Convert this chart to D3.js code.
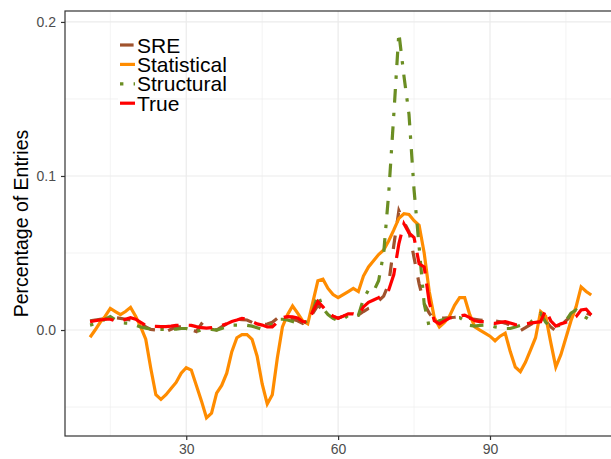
<!DOCTYPE html>
<html>
<head>
<meta charset="utf-8">
<script src="https://cdn.jsdelivr.net/npm/d3@7"></script>
<style>
  body { margin: 0; background: #fff; }
  svg { font-family: "Liberation Sans", Arial, sans-serif; }
</style>
</head>
<body>
<script>
//chart data
var xs = d3.range(11, 111);

var sre = [0.006, 0.0065, 0.007, 0.0075, 0.008, 0.008, 0.0076, 0.007, 0.0065, 0.006,
  0.005, 0.002, 0.0004, 0.0, -0.001, -0.001, 0.0005, 0.002, 0.002, 0.0015,
  0.0, -0.001, 0.004, 0.001, 0.001, 0.0, 0.002, 0.004, 0.006, 0.007,
  0.0068, 0.0065, 0.005, 0.0032, 0.0035, 0.0039, 0.005, 0.0076, 0.0076, 0.0076,
  0.007, 0.006, 0.0043, 0.007, 0.0108, 0.016, 0.013, 0.011, 0.0087, 0.0076,
  0.009, 0.0105, 0.0108, 0.0097, 0.012, 0.014, 0.015, 0.019, 0.022, 0.03,
  0.055, 0.0775, 0.07, 0.064, 0.047, 0.03, 0.017, 0.011, 0.0065, 0.0076,
  0.0078, 0.008, 0.0083, 0.0087, 0.008, 0.0075, 0.007, 0.0065, 0.006, 0.006,
  0.0058, 0.0054, 0.0045, 0.0032, 0.0005, -0.0004, 0.0015, 0.0035, 0.0055, 0.0072,
  0.006, 0.002, -0.0006, 0.003, 0.006, 0.009, 0.012, 0.012, 0.011, 0.0097];

var statistical = [-0.0047, 0.0, 0.005, 0.009, 0.014, 0.012, 0.010, 0.012, 0.0147, 0.009,
  0.002, -0.006, -0.025, -0.042, -0.045, -0.042, -0.038, -0.034, -0.028, -0.0245,
  -0.026, -0.036, -0.046, -0.057, -0.054, -0.041, -0.036, -0.028, -0.014, -0.005,
  -0.003, -0.003, -0.006, -0.017, -0.035, -0.048, -0.042, -0.018, 0.002, 0.010,
  0.0156, 0.011, 0.006, 0.004, 0.018, 0.032, 0.033, 0.027, 0.023, 0.021,
  0.023, 0.025, 0.027, 0.025, 0.035, 0.041, 0.045, 0.049, 0.052, 0.058,
  0.065, 0.0725, 0.0755, 0.075, 0.071, 0.068, 0.05, 0.025, 0.008, 0.002,
  0.005, 0.009, 0.016, 0.021, 0.021, 0.010, 0.002, 0.0, -0.002, -0.004,
  -0.007, -0.004, -0.002, -0.014, -0.024, -0.027, -0.021, -0.013, -0.005, 0.012,
  0.009, -0.008, -0.024, -0.016, -0.005, 0.006, 0.015, 0.028, 0.025, 0.0227];

var structural = [0.0032, 0.004, 0.005, 0.007, 0.0087, 0.0065, 0.0047, 0.0045, 0.0043, 0.003,
  0.002, 0.0012, 0.0006, 0.0004, 0.0004, 0.0004, 0.0004, 0.0006, 0.001, 0.001,
  0.0, -0.001, 0.0, 0.0004, 0.0004, 0.0, 0.001, 0.002, 0.0032, 0.0032,
  0.0032, 0.003, 0.0025, 0.0015, 0.0004, 0.002, 0.004, 0.007, 0.007, 0.0065,
  0.0055, 0.0045, 0.0043, 0.006, 0.012, 0.023, 0.014, 0.010, 0.0076, 0.006,
  0.007, 0.0095, 0.009, 0.0095, 0.02, 0.026, 0.025, 0.032, 0.05, 0.089,
  0.14, 0.193, 0.165, 0.14, 0.091, 0.054, 0.017, 0.002, 0.004, 0.006,
  0.007, 0.0076, 0.008, 0.008, 0.006, 0.003, 0.0025, 0.003, 0.0032, 0.003,
  0.002, 0.0015, 0.001, 0.001, 0.002, 0.003, 0.004, 0.005, 0.008, 0.0108,
  0.005, 0.002, 0.0025, 0.003, 0.006, 0.011, 0.013, 0.01, 0.008, 0.006];

var truth = [0.0054, 0.006, 0.0065, 0.007, 0.007, 0.006, 0.0055, 0.007, 0.008, 0.007,
  0.005, 0.003, 0.0026, 0.0024, 0.0022, 0.0022, 0.0025, 0.003, 0.003, 0.0032,
  0.003, 0.0022, 0.0015, 0.0012, 0.0015, 0.002, 0.003, 0.004, 0.0055, 0.0065,
  0.0076, 0.007, 0.0055, 0.004, 0.0032, 0.002, 0.002, 0.005, 0.008, 0.0087,
  0.0085, 0.0078, 0.0055, 0.005, 0.012, 0.0185, 0.015, 0.011, 0.009, 0.0076,
  0.009, 0.0105, 0.0105, 0.0097, 0.015, 0.018, 0.0195, 0.021, 0.023, 0.026,
  0.036, 0.056, 0.069, 0.063, 0.060, 0.043, 0.041, 0.018, 0.006, 0.004,
  0.006, 0.0078, 0.0085, 0.0092, 0.0097, 0.008, 0.006, 0.0055, 0.0054, 0.0045,
  0.0043, 0.005, 0.0054, 0.0045, 0.0035, 0.0032, 0.004, 0.0045, 0.005, 0.0054,
  0.013, 0.006, 0.0025, 0.004, 0.005, 0.0065, 0.0087, 0.013, 0.0135, 0.0097];

var seriesNames = ["SRE", "Statistical", "Structural", "True"];
var xTicks = [30, 60, 90];
var xMinor = [15, 45, 75, 105];
var yTicks = [0.0, 0.1, 0.2];
var yMinor = [-0.05, 0.05, 0.15];

window.onload = drawChart();

function drawChart() {
    var width = 611,
        height = 459;

    //panel box (right side runs past the picture)
    var left = 65, top = 11, right = 616.3, bottom = 436;

    var svg = d3.select("body")
        .append("svg")
        .attr("width", width)
        .attr("height", height);

    var x = d3.scaleLinear().domain([6.05, 114.95]).range([left, right]);
    var y = d3.scaleLinear().domain([-0.0688, 0.2071]).range([bottom, top]);

    svg.append("defs").append("clipPath")
        .attr("id", "panel")
        .append("rect")
        .attr("x", left).attr("y", top)
        .attr("width", right - left).attr("height", bottom - top);

    //grid lines
    var grid = svg.append("g");
    grid.selectAll(".ymin").data(yMinor).enter().append("line")
        .attr("x1", left).attr("x2", right)
        .attr("y1", d => y(d)).attr("y2", d => y(d))
        .attr("stroke", "#ebebeb").attr("stroke-width", 0.6);
    grid.selectAll(".xmin").data(xMinor).enter().append("line")
        .attr("y1", top).attr("y2", bottom)
        .attr("x1", d => x(d)).attr("x2", d => x(d))
        .attr("stroke", "#ebebeb").attr("stroke-width", 0.6);
    grid.selectAll(".ymaj").data(yTicks).enter().append("line")
        .attr("x1", left).attr("x2", right)
        .attr("y1", d => y(d)).attr("y2", d => y(d))
        .attr("stroke", "#ebebeb").attr("stroke-width", 1.2);
    grid.selectAll(".xmaj").data(xTicks).enter().append("line")
        .attr("y1", top).attr("y2", bottom)
        .attr("x1", d => x(d)).attr("x2", d => x(d))
        .attr("stroke", "#ebebeb").attr("stroke-width", 1.2);

    //series
    var u = 3.4;
    var styles = [
        { data: sre, color: "#a0522d", dash: [4 * u, 4 * u] },
        { data: statistical, color: "#ff8c00", dash: null },
        { data: structural, color: "#6b8e23", dash: [1 * u, 3 * u, 4 * u, 3 * u] },
        { data: truth, color: "#ff0000", dash: [7 * u, 3 * u] }
    ];

    var line = d3.line()
        .x((d, i) => x(xs[i]))
        .y(d => y(d));

    var lines = svg.append("g").attr("clip-path", "url(#panel)");
    styles.forEach(function(s) {
        lines.append("path")
            .datum(s.data)
            .attr("d", line)
            .attr("fill", "none")
            .attr("stroke", s.color)
            .attr("stroke-width", 3.2)
            .attr("stroke-dasharray", s.dash ? s.dash.join(",") : null);
    });

    //panel border
    svg.append("rect")
        .attr("x", left).attr("y", top)
        .attr("width", right - left).attr("height", bottom - top)
        .attr("fill", "none")
        .attr("stroke", "#333333")
        .attr("stroke-width", 1.2);

    //axes
    var xAxis = svg.append("g")
        .attr("transform", "translate(0," + bottom + ")")
        .call(d3.axisBottom(x).tickValues(xTicks).tickSize(4).tickPadding(4).tickFormat(d3.format("d")));
    var yAxis = svg.append("g")
        .attr("transform", "translate(" + left + ",0)")
        .call(d3.axisLeft(y).tickValues(yTicks).tickSize(4).tickPadding(5).tickFormat(d3.format(".1f")));

    [xAxis, yAxis].forEach(function(a) {
        a.select(".domain").remove();
        a.selectAll(".tick line").attr("stroke", "#333333").attr("stroke-width", 1.2);
        a.selectAll(".tick text")
            .attr("fill", "#4d4d4d")
            .style("font-size", "14px")
            .style("font-family", "'Liberation Sans', Arial, sans-serif");
    });

    //y axis title
    svg.append("text")
        .attr("transform", "translate(28," + ((top + bottom) / 2) + ") rotate(-90)")
        .attr("text-anchor", "middle")
        .style("font-size", "19.5px")
        .attr("fill", "#000")
        .text("Percentage of Entries");

    //legend
    var legend = svg.append("g");
    styles.forEach(function(s, i) {
        var cy = 45 + i * 19.4;
        legend.append("rect")
            .attr("x", 118).attr("y", cy - 9.7)
            .attr("width", 18).attr("height", 19.4)
            .attr("fill", "#fff");
        legend.append("line")
            .attr("x1", 120).attr("x2", 135)
            .attr("y1", cy).attr("y2", cy)
            .attr("stroke", s.color)
            .attr("stroke-width", 3.2)
            .attr("stroke-dasharray", s.dash ? s.dash.join(",") : null);
        legend.append("text")
            .attr("x", 137).attr("y", cy)
            .attr("dy", "0.36em")
            .style("font-size", "21px")
            .attr("fill", "#000")
            .text(seriesNames[i]);
    });
}
</script>
</body>
</html>
